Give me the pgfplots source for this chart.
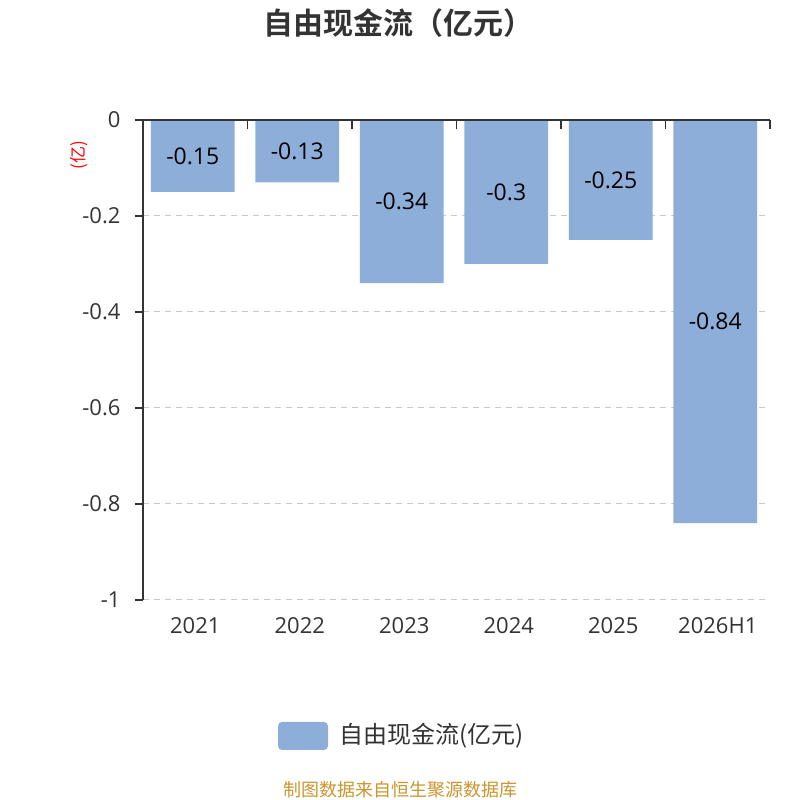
\documentclass[border=0pt]{standalone}
\usepackage{fontspec}
\setmainfont{Open Sans}
\newfontfamily\cjk{Noto Sans CJK SC}[BoldFont={Noto Sans CJK SC Bold}]
\usepackage{pgfplots}
\pgfplotsset{compat=1.18}
\definecolor{barc}{HTML}{8EAEDA}
\definecolor{axc}{HTML}{333333}
\definecolor{gridc}{HTML}{C8C8C8}
\definecolor{footc}{HTML}{C8962E}
\begin{document}
\begin{tikzpicture}[x=1pt,y=1pt]
\useasboundingbox (0,0) rectangle (800,800);
\begin{axis}[
  at={(143pt,200pt)}, anchor=south west,
  scale only axis, width=627pt, height=480pt,
  xmin=-0.5, xmax=5.5, ymin=-1, ymax=0,
  axis x line=none,
  axis y line*=left,
  axis line style={color=axc, line width=1.5pt, -},
  xtick={0,1,2,3,4,5},
  ytick={-1,-0.8,-0.6,-0.4,-0.2,0},
  yticklabels={-1,-0.8,-0.6,-0.4,-0.2,0},
  ytick style={color=axc, line width=1.5pt},
  major tick length=8pt,
  tick align=outside,
  yticklabel style={font=\fontsize{22}{26}\selectfont, color=axc, xshift=-11pt},
  ymajorgrids,
  grid style={color=gridc, line width=1pt, dash pattern=on 6pt off 5pt},
  clip=false,
]
\addplot[ybar, bar width=0.8, fill=barc, draw=none, bar shift=-2.5pt] coordinates {
  (0,-0.15) (1,-0.13) (2,-0.34) (3,-0.3) (4,-0.25) (5,-0.84)
};
\addplot[only marks, mark=none, nodes near coords, point meta=explicit symbolic,
  every node near coord/.style={anchor=center, font=\fontsize{23}{26}\selectfont, color=black, xshift=-2.5pt}]
  coordinates {
  (0,-0.075)[-0.15] (1,-0.065)[-0.13] (2,-0.17)[-0.34] (3,-0.15)[-0.3] (4,-0.125)[-0.25] (5,-0.42)[-0.84]
};
% top x axis line with ticks at category boundaries
\draw[color=axc, line width=1.5pt] (axis cs:-0.5,0) -- (axis cs:5.5,0);
\pgfplotsinvokeforeach{-0.5,0.5,1.5,2.5,3.5,4.5,5.5}{
  \draw[color=axc, line width=1.5pt] (axis cs:#1,0) -- ([yshift=-9pt]axis cs:#1,0);
}
% x labels at bottom
\node[font=\fontsize{22}{26}\selectfont, color=axc, yshift=-26pt] at (axis cs:0,-1) {2021};
\node[font=\fontsize{22}{26}\selectfont, color=axc, yshift=-26pt] at (axis cs:1,-1) {2022};
\node[font=\fontsize{22}{26}\selectfont, color=axc, yshift=-26pt] at (axis cs:2,-1) {2023};
\node[font=\fontsize{22}{26}\selectfont, color=axc, yshift=-26pt] at (axis cs:3,-1) {2024};
\node[font=\fontsize{22}{26}\selectfont, color=axc, yshift=-26pt] at (axis cs:4,-1) {2025};
\node[font=\fontsize{22}{26}\selectfont, color=axc, yshift=-26pt] at (axis cs:5,-1) {2026H1};
\end{axis}
% y label
\node[rotate=90, color=red, font=\cjk\fontsize{17}{19}\selectfont] at (79,645) {(亿)};
% title
\node[font=\cjk\bfseries\fontsize{30}{34}\selectfont, color=axc] at (398,777) {自由现金流（亿元）};
% legend
\fill[barc, rounded corners=4pt] (278,50) rectangle (328,78);
\node[anchor=west, font=\cjk\fontsize{24}{27}\selectfont, color=axc, inner sep=0pt] at (339,64) {自由现金流(亿元)};
% footer
\node[font=\cjk\fontsize{18}{20}\selectfont, color=footc] at (400,10) {制图数据来自恒生聚源数据库};
\end{tikzpicture}
\end{document}
